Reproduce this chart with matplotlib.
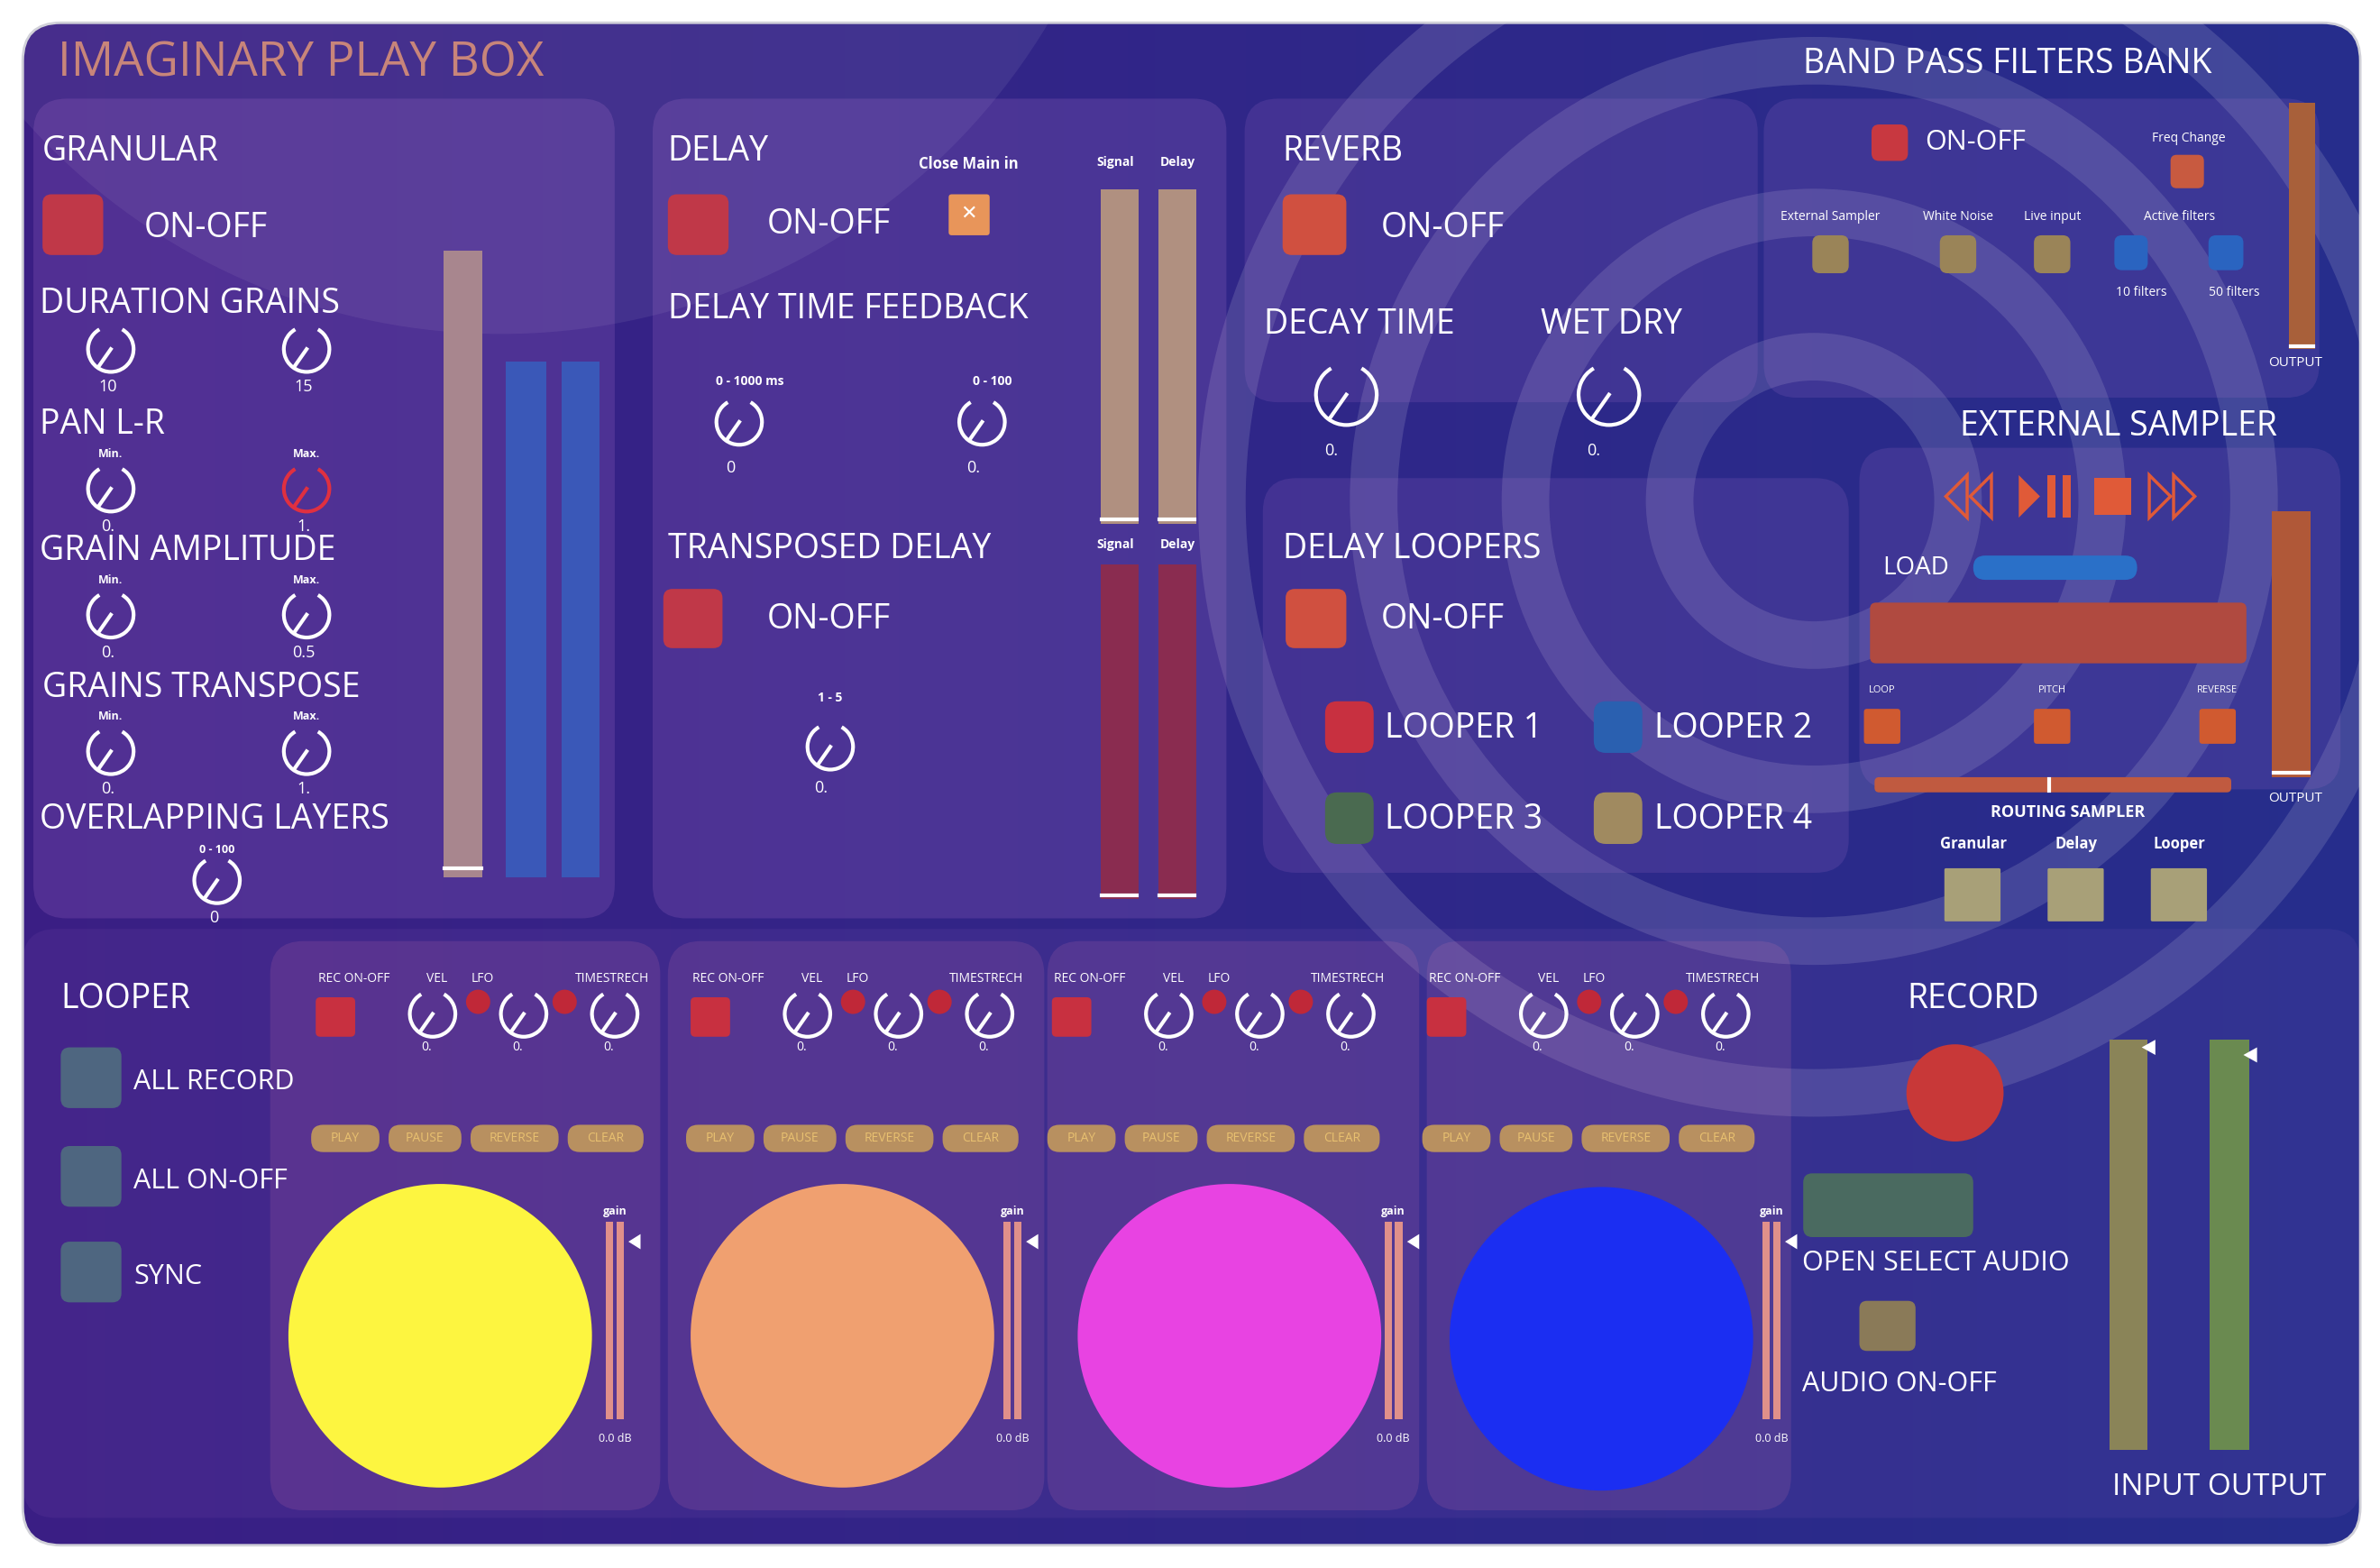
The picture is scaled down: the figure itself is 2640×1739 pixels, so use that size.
import numpy as np
import matplotlib
matplotlib.use("Agg")
import matplotlib.pyplot as plt
from matplotlib.patches import FancyBboxPatch, Rectangle, Circle, Arc, Polygon

plt.rcParams['font.family'] = ['Open Sans', 'DejaVu Sans']

# ---------------- data ----------------
granular_knobs = [  # (label above, x, y, value text, color)
    ("", 73, 230, "10", "w"), ("", 202, 230, "15", "w"),
    ("Min.", 73, 322, "0.", "w"), ("Max.", 202, 322, "1.", "#e03040"),
    ("Min.", 73, 405, "0.", "w"), ("Max.", 202, 405, "0.5", "w"),
    ("Min.", 73, 495, "0.", "w"), ("Max.", 202, 495, "1.", "w"),
    ("0 - 100", 143, 580, "0", "w"),
]
granular_titles = [("GRANULAR", 28, 100), ("DURATION GRAINS", 26, 200), ("PAN L-R", 26, 280),
                   ("GRAIN AMPLITUDE", 26, 363), ("GRAINS TRANSPOSE", 28, 453),
                   ("OVERLAPPING LAYERS", 26, 540)]
delay_knobs = [("0 - 1000 ms", 487, 278, "0"), ("0 - 100", 647, 278, "0."), ("1 - 5", 547, 492, "0.")]
reverb_knobs = [(887, 260, "0."), (1060, 260, "0.")]
looper_names = ["LOOPER 1", "LOOPER 2", "LOOPER 3", "LOOPER 4"]
looper_colors = ["#c83040", "#2a60b0", "#4a6a50", "#a08a60"]
col_rec_x = [208, 455, 693, 940]
col_panel_x = [(178, 435), (440, 688), (690, 935), (940, 1180)]
disc_centers = [(290, 880), (555, 880), (810, 880), (1055, 882)]
disc_colors = ["#fdf540", "#f0a070", "#e843e2", "#1b2ef2"]
gain_x = [405, 667, 918, 1167]
button_labels = ["PLAY", "PAUSE", "REVERSE", "CLEAR"]
button_widths = [45, 48, 58, 50]
looper_ctrl_labels = ["REC ON-OFF", "VEL", "LFO", "TIMESTRECH"]
bp_sources = ["External Sampler", "White Noise", "Live input"]
routing_labels = ["Granular", "Delay", "Looper"]

fig = plt.figure(figsize=(26.4, 17.39), dpi=100)
ax = fig.add_axes([0, 0, 1, 1])
ax.set_xlim(0, 1568); ax.set_ylim(1033, 0); ax.axis('off')
fig.patch.set_facecolor('white')

# background gradient
frame = FancyBboxPatch((15, 15), 1540, 1003, boxstyle="round,pad=0,rounding_size=25",
                       fc='none', ec='#d0d0d8', lw=2, zorder=1)
ax.add_patch(frame)
g = np.linspace(0, 1, 256)
c0 = np.array([0.23, 0.12, 0.52]); c1 = np.array([0.15, 0.18, 0.55])
img = (c0[None, :] * (1 - g[:, None]) + c1[None, :] * g[:, None])[None, :, :]
im = ax.imshow(img, extent=(15, 1555, 1018, 15), aspect='auto', zorder=0)
im.set_clip_path(frame)

# concentric rings
cx, cy = 1195, 330
for r in [95, 190, 290, 390]:
    ring = Circle((cx, cy), r, fc='none', ec=(1, 1, 1, 0.13), lw=38, zorder=1)
    ax.add_patch(ring); ring.set_clip_path(frame)
# top-left swoosh
sw = Circle((330, -200), 420, fc=(1, 1, 1, 0.07), ec='none', zorder=1)
ax.add_patch(sw); sw.set_clip_path(frame)

def panel(x0, y0, x1, y1, a=0.18, col=(0.75, 0.5, 0.85)):
    ax.add_patch(FancyBboxPatch((x0, y0), x1 - x0, y1 - y0, boxstyle="round,pad=0,rounding_size=22",
                                fc=(*col, a), ec='none', zorder=2))

def T(x, y, s, size=28, color='white', ha='left', weight='normal'):
    ax.text(x, y, s, fontsize=size, color=color, ha=ha, va='center', weight=weight, zorder=6)

def sq(x0, y0, x1, y1, color, r=6, z=4):
    ax.add_patch(FancyBboxPatch((x0, y0), x1 - x0, y1 - y0, boxstyle=f"round,pad=0,rounding_size={r}",
                                fc=color, ec='none', zorder=z))

def knob(x, y, color='white', r=15):
    ax.add_patch(Arc((x, y), 2 * r, 2 * r, theta1=-60, theta2=240, color=color, lw=3, zorder=5))
    a = np.deg2rad(235)
    ax.plot([x, x + r * np.cos(a) * 0.9], [y, y - r * np.sin(a) * 0.9], color=color, lw=3, zorder=5)

# panels
panel(22, 65, 405, 605)
panel(430, 65, 808, 605)
panel(820, 65, 1158, 265, a=0.14)
panel(1162, 65, 1528, 262, a=0.14)
panel(832, 315, 1218, 575, a=0.14)
panel(1225, 295, 1542, 520, a=0.14)
panel(15, 612, 1555, 1000, a=0.08)
for (a0, a1) in col_panel_x:
    panel(a0, 620, a1, 995, a=0.14, col=(0.9, 0.5, 0.7))

# titles
T(38, 42, "IMAGINARY PLAY BOX", 38, '#c8857a')
T(1188, 42, "BAND PASS FILTERS BANK", 27)

# GRANULAR
for s, x, y in granular_titles:
    T(x, y, s, 27)
sq(28, 128, 68, 168, '#c03848')
T(95, 150, "ON-OFF", 27)
for lab, x, y, v, c in granular_knobs:
    if lab:
        T(x, y - 23 if lab != "0 - 100" else y - 20, lab, 9, ha='center', weight='bold')
    knob(x, y, c)
    T(x - 2, y + 25, v, 13, ha='center')
ax.add_patch(Rectangle((292, 165), 26, 413, fc='#a8868e', ec='none', zorder=3))
ax.plot([293, 317], [572, 572], color='white', lw=3, zorder=4)
ax.add_patch(Rectangle((333, 238), 27, 340, fc='#3a58b8', ec='none', zorder=3))
ax.add_patch(Rectangle((370, 238), 25, 340, fc='#3a58b8', ec='none', zorder=3))

# DELAY
T(440, 100, "DELAY", 27)
T(638, 108, "Close Main in", 12, ha='center', weight='bold')
sq(625, 128, 652, 155, '#e8955a', r=2)
T(638, 141, "✕", 16, ha='center')
sq(440, 128, 480, 168, '#c03848')
T(505, 148, "ON-OFF", 27)
T(440, 204, "DELAY TIME FEEDBACK", 27)
for lab, x, y, v in delay_knobs:
    T(x + 7 if lab.startswith("0 - 1") else x, y - 27 if y < 400 else y - 32, lab, 10, ha='center', weight='bold')
    knob(x, y)
    T(x - 6, y + 30 if y < 400 else y + 27, v, 13, ha='center')
T(440, 362, "TRANSPOSED DELAY", 27)
sq(437, 388, 476, 427, '#c03848')
T(505, 408, "ON-OFF", 27)
for yl in [107, 359]:
    T(735, yl, "Signal", 10, ha='center', weight='bold')
    T(776, yl, "Delay", 10, ha='center', weight='bold')
for x0 in [725, 763]:
    ax.add_patch(Rectangle((x0, 125), 25, 220, fc='#b09080', ec='none', zorder=3))
    ax.plot([x0 + 1, x0 + 24], [342, 342], color='white', lw=3, zorder=4)
    ax.add_patch(Rectangle((x0, 372), 25, 220, fc='#8a2c50', ec='none', zorder=3))
    ax.plot([x0 + 1, x0 + 24], [590, 590], color='white', lw=3, zorder=4)

# REVERB
T(845, 100, "REVERB", 27)
sq(845, 128, 887, 168, '#d05040')
T(910, 150, "ON-OFF", 27)
T(833, 214, "DECAY TIME", 27)
T(1015, 214, "WET DRY", 27)
for x, y, v in reverb_knobs:
    knob(x, y, r=20)
    T(x - 10, y + 37, v, 13, ha='center')

# BAND PASS
sq(1233, 82, 1257, 106, '#c83840', r=5)
T(1268, 94, "ON-OFF", 22)
T(1442, 91, "Freq Change", 10, ha='center')
sq(1430, 102, 1452, 124, '#c85a40', r=4)
for s, x in zip(bp_sources, [1206, 1290, 1352]):
    T(x, 143, s, 10, ha='center')
    sq(x - 12, 155, x + 12, 180, '#9a8458', r=5)
T(1436, 143, "Active filters", 10, ha='center')
sq(1393, 155, 1415, 178, '#2a64c0', r=5)
sq(1455, 155, 1478, 178, '#2a64c0', r=5)
T(1411, 193, "10 filters", 10, ha='center')
T(1472, 193, "50 filters", 10, ha='center')
ax.add_patch(Rectangle((1508, 68), 17, 162, fc='#a8603a', ec='none', zorder=3))
ax.plot([1509, 1524], [228, 228], color='white', lw=3, zorder=4)
T(1512, 239, "OUTPUT", 11, ha='center')

# EXTERNAL SAMPLER
T(1396, 281, "EXTERNAL SAMPLER", 27, ha='center')
oc = '#e05a38'
for xs in [1282, 1298]:
    ax.add_patch(Polygon([[xs + 14, 313], [xs, 327], [xs + 14, 341]], closed=True, fc='none', ec=oc, lw=2.5, zorder=5))
ax.add_patch(Polygon([[1330, 313], [1344, 327], [1330, 341]], closed=True, fc=oc, ec='none', zorder=5))
ax.add_patch(Rectangle((1349, 313), 5, 28, fc=oc, zorder=5))
ax.add_patch(Rectangle((1359, 313), 5, 28, fc=oc, zorder=5))
ax.add_patch(Rectangle((1380, 315), 24, 24, fc=oc, zorder=5))
for xs in [1416, 1432]:
    ax.add_patch(Polygon([[xs, 313], [xs + 14, 327], [xs, 341]], closed=True, fc='none', ec=oc, lw=2.5, zorder=5))
T(1240, 374, "LOAD", 20)
sq(1300, 366, 1408, 382, '#2a70c8', r=8)
sq(1232, 397, 1480, 437, '#b04a40', r=4)
for s, x in zip(["LOOP", "PITCH", "REVERSE"], [1240, 1352, 1461]):
    T(x, 455, s, 8, ha='center')
    sq(x - 12, 467, x + 12, 490, '#d05a30', r=2)
sq(1235, 512, 1470, 522, '#c05a40', r=3)
ax.plot([1350, 1350], [513, 521], color='white', lw=3, zorder=5)
T(1362, 535, "ROUTING SAMPLER", 13, ha='center', weight='bold')
for s, x in zip(routing_labels, [1300, 1368, 1436]):
    T(x, 556, s, 12, ha='center', weight='bold')
    sq(x - 19, 572, x + 18, 607, '#a8a078', r=1)
ax.add_patch(Rectangle((1497, 337), 25, 175, fc='#b05838', ec='none', zorder=3))
ax.plot([1498, 1521], [509, 509], color='white', lw=3, zorder=4)
T(1512, 526, "OUTPUT", 11, ha='center')

# DELAY LOOPERS
T(845, 362, "DELAY LOOPERS", 27)
sq(847, 388, 887, 427, '#d05040')
T(910, 408, "ON-OFF", 27)
pos = [(873, 462), (1050, 462), (873, 522), (1050, 522)]
for (x, y), s, c in zip(pos, looper_names, looper_colors):
    sq(x, y, x + 32, y + 34, c, r=8)
    T(x + 39 if x < 1000 else x + 40, y + 18, s, 27)

# LOOPER section
T(40, 658, "LOOPER", 27)
for y, s in zip([690, 755, 818], ["ALL RECORD", "ALL ON-OFF", "SYNC"]):
    sq(40, y, 80, y + 40, '#4e6680', r=6)
    T(88, y + 23, s, 22)
for i in range(4):
    rx = col_rec_x[i]
    sq(rx, 657, rx + 26, 683, '#c83040', r=3)
    T(rx + 25, 645, "REC ON-OFF", 10, ha='center')
    T(rx + 80, 645, "VEL", 10, ha='center')
    T(rx + 110, 645, "LFO", 10, ha='center')
    T(rx + 195, 645, "TIMESTRECH", 10, ha='center')
    for k, dx in enumerate([77, 137, 197]):
        knob(rx + dx, 668)
        T(rx + dx - 4, 690, "0.", 10, ha='center')
    for dx in [107, 164]:
        ax.add_patch(Circle((rx + dx, 660), 8, fc='#c02838', ec='none', zorder=5))
    bx = rx - 3
    for s, w in zip(button_labels, button_widths):
        sq(bx, 741, bx + w, 759, '#b89060', r=8)
        T(bx + w / 2, 750, s, 10, '#e8c070', ha='center')
        bx += w + 6
    cxx, cyy = disc_centers[i]
    ax.add_patch(Circle((cxx, cyy), 100, fc=disc_colors[i], ec='none', zorder=4))
    gx = gain_x[i]
    T(gx, 798, "gain", 9, ha='center', weight='bold')
    ax.add_patch(Rectangle((gx - 6, 805), 5, 130, fc='#e0908a', ec='none', zorder=4))
    ax.add_patch(Rectangle((gx + 1, 805), 5, 130, fc='#e0908a', ec='none', zorder=4))
    ax.add_patch(Polygon([[gx + 9, 818], [gx + 17, 813], [gx + 17, 823]], closed=True, fc='white', zorder=5))
    T(gx, 948, "0.0 dB", 9, ha='center')

# RECORD
T(1300, 658, "RECORD", 27, ha='center')
ax.add_patch(Circle((1288, 720), 32, fc='#c83838', ec='none', zorder=4))
sq(1188, 773, 1300, 815, '#4a6a60', r=6)
T(1187, 832, "OPEN SELECT AUDIO", 22)
sq(1225, 857, 1262, 890, '#8a7a58', r=5)
T(1187, 912, "AUDIO ON-OFF", 22)
ax.add_patch(Rectangle((1390, 685), 25, 270, fc='#8a8458', ec='none', zorder=3))
ax.add_patch(Rectangle((1456, 685), 26, 270, fc='#6a8a50', ec='none', zorder=3))
ax.add_patch(Polygon([[1411, 690], [1420, 685], [1420, 695]], closed=True, fc='white', zorder=5))
ax.add_patch(Polygon([[1478, 695], [1487, 690], [1487, 700]], closed=True, fc='white', zorder=5))
T(1462, 980, "INPUT OUTPUT", 24, ha='center')

fig.savefig("out.png", dpi=100)
